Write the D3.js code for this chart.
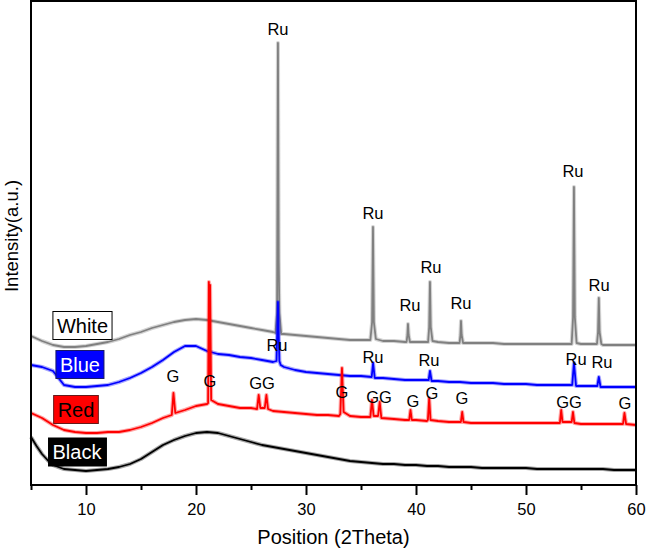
<!DOCTYPE html>
<html>
<head>
<meta charset="utf-8">
<script src="https://cdn.jsdelivr.net/npm/d3@7"></script>
<style>
  body { margin: 0; background: #fff; }
  text { font-family: 'Liberation Sans', Arial, sans-serif; }
</style>
</head>
<body>
<div id="app"></div>
<script>
'use strict'

// 2Theta, intensity (a.u., already offset per sample)
const whitePattern = [
  [5, 149], [6, 144], [7, 140], [8, 138], [9, 138], [10, 139], [11, 141], [12, 143],
  [13, 146], [14, 150], [15, 153], [16, 157], [17, 160], [18, 163], [19, 165], [20, 166],
  [21, 165], [22, 163], [23, 161], [24, 159], [25, 157], [26, 155], [27, 153],
  [27.22, 152], [27.37, 172], [27.45, 442], [27.52, 225], [27.58, 172], [27.75, 151],
  [28, 151], [29, 150], [30, 149], [31, 148], [32, 147], [33, 146], [34, 145], [35, 145],
  [35.85, 145], [36.01, 163], [36.09, 258], [36.17, 163], [36.35, 146], [37, 144],
  [38, 144], [39, 143], [39.14, 143], [39.22, 150], [39.27, 161], [39.33, 150],
  [39.45, 143], [40, 143], [41, 143], [41.1, 143], [41.2, 158], [41.27, 203], [41.34, 158],
  [41.5, 144], [42, 143], [43, 142], [43.96, 142], [44.04, 150], [44.09, 164],
  [44.15, 150], [44.28, 142], [45, 142], [46, 142], [47, 142], [48, 141], [49, 141],
  [50, 141], [51, 141], [52, 141], [53, 141], [54, 141], [54.15, 141], [54.28, 168],
  [54.36, 298], [54.44, 168], [54.6, 142], [55, 141], [56, 141], [56.45, 141],
  [56.55, 153], [56.62, 187], [56.69, 153], [56.85, 141], [57, 140], [58, 140],
  [59, 140], [60, 140]
]

const bluePattern = [
  [5, 120], [6, 118], [7, 114], [7.5, 107], [8, 100], [9, 98], [10, 98], [11, 99],
  [12, 100], [13, 103], [14, 107], [15, 112], [16, 118], [17, 125], [18, 133], [19, 139],
  [20, 139], [21, 134], [22, 131], [23, 130], [24, 128], [25, 127], [26, 125], [27, 123],
  [27.32, 124], [27.45, 183], [27.58, 124], [27.7, 120], [28, 118], [29, 115], [30, 113],
  [31, 112], [32, 111], [33, 110], [34, 109], [35, 109], [35.97, 108], [36.1, 122],
  [36.25, 107], [37, 107], [38, 106], [39, 105], [40, 105], [41, 105], [41.15, 105],
  [41.27, 114], [41.42, 104], [42, 104], [43, 103], [44, 103], [45, 102], [46, 102],
  [47, 102], [48, 101], [49, 101], [50, 101], [51, 100], [52, 100], [53, 100], [54, 100],
  [54.2, 100], [54.36, 122], [54.55, 99], [55, 99], [56, 99], [56.48, 99], [56.62, 108],
  [56.78, 98], [57, 98], [58, 98], [59, 98], [60, 98]
]

const redPattern = [
  [5, 72], [6, 67], [7, 60], [8, 55], [9, 53], [10, 52], [11, 52], [12, 53], [13, 53],
  [14, 55], [15, 58], [16, 62], [17, 67], [17.8, 70], [17.95, 92], [18.12, 72], [19, 75],
  [20, 79], [21, 81], [21.1, 82], [21.17, 203], [21.22, 110], [21.28, 200], [21.38, 85],
  [22, 81], [23, 79], [24, 77], [25, 77], [25.55, 76], [25.7, 90], [25.85, 77],
  [26.25, 77], [26.4, 90], [26.55, 76], [27, 74], [28, 73], [29, 72], [30, 71], [31, 70],
  [32, 70], [33, 69], [33.12, 71], [33.27, 117], [33.42, 73], [34, 69], [35, 68],
  [35.85, 68], [36.0, 85], [36.15, 69], [36.55, 69], [36.7, 83], [36.85, 67], [38, 66],
  [39, 65], [39.38, 65], [39.5, 75], [39.62, 65], [40, 65], [41, 64], [41.08, 65],
  [41.2, 87], [41.32, 65], [42, 64], [43, 63], [44, 63], [44.08, 63], [44.2, 73],
  [44.32, 63], [45, 62], [46, 62], [47, 62], [48, 62], [49, 62], [50, 62], [51, 62],
  [52, 62], [53, 62], [53.08, 62], [53.2, 75], [53.32, 63], [54.15, 63], [54.27, 73],
  [54.4, 62], [55, 61], [56, 61], [57, 61], [58, 61], [58.82, 61], [58.95, 72],
  [59.1, 61], [60, 60]
]

const blackPattern = [
  [5, 48], [5.5, 39], [6, 31], [6.5, 25], [7, 20], [8, 16], [9, 15], [10, 14], [11, 15],
  [12, 16], [13, 18], [14, 21], [15, 26], [16, 33], [17, 40], [18, 45], [19, 49], [20, 52],
  [21, 53], [22, 52], [23, 49], [24, 46], [25, 43], [26, 40], [27, 38], [28, 36], [29, 34],
  [30, 32], [31, 30], [32, 28], [33, 26], [34, 24], [35, 23], [36, 22], [37, 21], [38, 21],
  [39, 20], [40, 20], [41, 19], [42, 19], [43, 18], [44, 18], [45, 18], [46, 17], [47, 17],
  [48, 17], [49, 17], [50, 17], [51, 16], [52, 16], [53, 16], [54, 16], [55, 16], [56, 16],
  [57, 16], [58, 15], [59, 15], [60, 15]
]

const sampleNames = ['White', 'Blue', 'Red', 'Black']
const sampleColors = ['#808080', '#0000ff', '#ff0000', '#000000']

// label anchors: [text, 2Theta, intensity]
const whiteRu = [
  ['Ru', 27.45, 450], ['Ru', 36.09, 266], ['Ru', 39.45, 174], ['Ru', 41.36, 212],
  ['Ru', 44.09, 176], ['Ru', 54.27, 308], ['Ru', 56.64, 194]
]
const blueRu = [
  ['Ru', 27.36, 134], ['Ru', 36.09, 122], ['Ru', 41.18, 119], ['Ru', 54.55, 120],
  ['Ru', 56.91, 117]
]
const redG = [
  ['G', 17.91, 103], ['G', 21.27, 98], ['GG', 26.0, 96], ['G', 33.27, 87],
  ['GG', 36.64, 82], ['G', 39.73, 78], ['G', 41.45, 86], ['G', 44.18, 81],
  ['GG', 53.91, 77], ['G', 59.0, 76]
]

// legend boxes sit at these centres
const legendTheta = [9.68, 9.45, 9.09, 9.18]
const legendValue = [159.5, 120.5, 75.5, 33]

const majorTicks = [10, 20, 30, 40, 50, 60]
const minorTicks = [5, 15, 25, 35, 45, 55]

const W = 646
const H = 554

const svg = d3.select('#app').append('svg')
  .attr('width', W)
  .attr('height', H)

const x = d3.scaleLinear().domain([5, 60]).range([31, 636])
const y = d3.scaleLinear().domain([0, 484]).range([485, 1])

const line = d3.line()
  .x(d => x(d[0]))
  .y(d => y(d[1]))

/*
 * Patterns, a soft wide stroke under a thinner one to give the noisy band look
 */
const patterns = [whitePattern, bluePattern, redPattern, blackPattern]
patterns.forEach((p, i) => {
  svg.append('path')
    .datum(p)
    .attr('d', line)
    .attr('fill', 'none')
    .attr('stroke', sampleColors[i])
    .attr('stroke-width', 4)
    .attr('stroke-opacity', 0.35)
    .attr('stroke-linejoin', 'round')
  svg.append('path')
    .datum(p)
    .attr('d', line)
    .attr('fill', 'none')
    .attr('stroke', sampleColors[i])
    .attr('stroke-width', 1.8)
    .attr('stroke-linejoin', 'round')
})

/*
 * Peak labels
 */
const peakLabels = whiteRu.concat(blueRu, redG)
svg.append('g').selectAll('text')
  .data(peakLabels)
  .enter()
  .append('text')
  .attr('x', d => x(d[1]))
  .attr('y', d => y(d[2]))
  .attr('text-anchor', 'middle')
  .attr('font-size', 16.5)
  .attr('fill', '#000')
  .text(d => d[0])

/*
 * Sample name boxes
 */
const boxFill = ['#ffffff', '#0000ff', '#ff0000', '#000000']
const boxText = ['#000000', '#ffffff', '#000000', '#ffffff']
const boxStroke = ['#000000', '#1a1a66', '#661a1a', '#000000']
sampleNames.forEach((name, i) => {
  const g = svg.append('g')
  const rect = g.append('rect')
  const t = g.append('text')
    .attr('x', x(legendTheta[i]))
    .attr('y', y(legendValue[i]) + 7.2)
    .attr('text-anchor', 'middle')
    .attr('font-size', 20)
    .attr('fill', boxText[i])
    .text(name)
  const bb = t.node().getBBox()
  rect.attr('x', bb.x - 4)
    .attr('y', y(legendValue[i]) - 14)
    .attr('width', bb.width + 8)
    .attr('height', 28)
    .attr('fill', boxFill[i])
    .attr('stroke', boxStroke[i])
    .attr('stroke-width', 1)
})

/*
 * Axes and frame
 */
svg.append('g')
  .attr('transform', `translate(0, ${y(0)})`)
  .call(d3.axisBottom(x).tickValues(majorTicks).tickSize(10).tickPadding(8).tickFormat(d3.format('d')))
  .call(g => g.select('.domain').remove())
  .call(g => g.selectAll('line').attr('stroke-width', 2))
  .call(g => g.selectAll('text')
    .attr('font-size', 16.5)
    .attr('fill', '#000')
    .style('font-family', "'Liberation Sans', Arial, sans-serif"))

svg.append('g')
  .attr('transform', `translate(0, ${y(0)})`)
  .call(d3.axisBottom(x).tickValues(minorTicks).tickSize(5).tickFormat(''))
  .call(g => g.select('.domain').remove())
  .call(g => g.selectAll('line').attr('stroke-width', 2))

svg.append('rect')
  .attr('x', x(5))
  .attr('y', y(484))
  .attr('width', x(60) - x(5))
  .attr('height', y(0) - y(484))
  .attr('fill', 'none')
  .attr('stroke', '#000')
  .attr('stroke-width', 2)

svg.append('text')
  .attr('x', (x(5) + x(60)) / 2)
  .attr('y', 544)
  .attr('text-anchor', 'middle')
  .attr('font-size', 20)
  .text('Position (2Theta)')

svg.append('text')
  .attr('transform', 'translate(18, 236) rotate(-90)')
  .attr('text-anchor', 'middle')
  .attr('font-size', 18.5)
  .text('Intensity(a.u.)')
</script>
</body>
</html>
